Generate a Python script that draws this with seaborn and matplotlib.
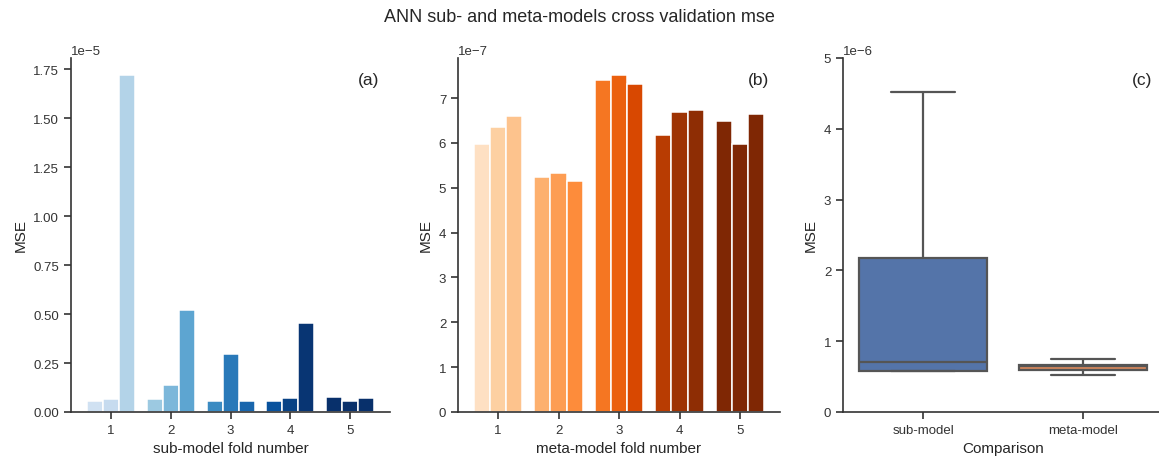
import numpy as np
import pandas as pd
import matplotlib
matplotlib.use("Agg")
import matplotlib.pyplot as plt
import seaborn as sns

# Cross-validation MSE per fold; three models trained in each fold
folds = [1, 2, 3, 4, 5]
members = [1, 2, 3]
sub_mse = [            # units of 1e-5
    [0.058, 0.064, 1.722],
    [0.064, 0.138, 0.523],
    [0.058, 0.297, 0.058],
    [0.058, 0.071, 0.452],
    [0.077, 0.058, 0.071],
]
meta_mse = [           # units of 1e-7
    [5.97, 6.35, 6.61],
    [5.25, 5.34, 5.16],
    [7.40, 7.52, 7.32],
    [6.18, 6.68, 6.73],
    [6.50, 5.98, 6.65],
]
comparison_labels = ["sub-model", "meta-model"]

# Colormap positions for the 15 bars of each panel (light -> dark)
blues_pos = [0.20, 0.25, 0.31, 0.38, 0.46, 0.54, 0.65, 0.72, 0.79, 0.87, 0.93, 0.98, 1.0, 1.0, 1.0]
oranges_pos = [0.16, 0.25, 0.30, 0.37, 0.44, 0.50, 0.58, 0.66, 0.75, 0.83, 0.90, 0.95, 1.0, 1.0, 1.0]

sns.set_theme(style="ticks")
plt.rcParams["font.family"] = ["Liberation Sans", "DejaVu Sans"]
plt.rcParams["axes.edgecolor"] = "#333333"
plt.rcParams["text.color"] = "#262626"
plt.rcParams["axes.labelcolor"] = "#262626"
plt.rcParams["xtick.color"] = "#333333"
plt.rcParams["ytick.color"] = "#333333"


def long_frame(values, scale):
    rows = [(f, m, v * scale) for f, vals in zip(folds, values) for m, v in zip(members, vals)]
    return pd.DataFrame(rows, columns=["fold", "member", "mse"])


sub_df = long_frame(sub_mse, 1e-5)
meta_df = long_frame(meta_mse, 1e-7)
comp_df = pd.DataFrame({
    "Comparison": [comparison_labels[0]] * len(sub_df) + [comparison_labels[1]] * len(meta_df),
    "MSE": list(sub_df["mse"]) + list(meta_df["mse"]),
})

fig = plt.figure(figsize=(11.59, 4.6), dpi=100)
h = 0.7696
b = 0.1022
ax1 = fig.add_axes([0.0613, b, 0.2752, h])
ax2 = fig.add_axes([0.3952, b, 0.2778, h])
ax3 = fig.add_axes([0.7274, b, 0.2762, h])


def style_axis(ax, label):
    sns.despine(ax=ax)
    for sp in ("left", "bottom"):
        ax.spines[sp].set_linewidth(1.2)
    ax.tick_params(labelsize=9.5, length=5, width=1.2)
    ax.yaxis.get_offset_text().set_fontsize(9.5)
    ax.xaxis.label.set_size(11)
    ax.yaxis.label.set_size(11)
    ax.text(0.965, 0.94, label, transform=ax.transAxes, ha="right",
            va="center", fontsize=12.5)


def fold_bars(ax, df, cmap_name, positions, xlabel, label):
    sns.barplot(data=df, x="fold", y="mse", hue="member", ax=ax, legend=False,
                errorbar=None, edgecolor="white", linewidth=1.1)
    cmap = plt.get_cmap(cmap_name)
    bars = sorted(ax.patches, key=lambda p: p.get_x())
    for bar, pos in zip(bars, positions):
        bar.set_facecolor(cmap(pos))
    ax.set_xlim(-0.66, 4.66)
    ax.set_xlabel(xlabel)
    ax.set_ylabel("MSE")
    style_axis(ax, label)


fold_bars(ax1, sub_df, "Blues", blues_pos, "sub-model fold number", "(a)")
fold_bars(ax2, meta_df, "Oranges", oranges_pos, "meta-model fold number", "(b)")

sns.boxplot(data=comp_df, x="Comparison", y="MSE", hue="Comparison",
            palette="deep", saturation=0.85, showfliers=False, width=0.8,
            linewidth=1.6, linecolor="#555555", legend=False, ax=ax3)
ax3.set_ylim(0, 5e-6)
ax3.set_xlim(-0.5, 1.5)
style_axis(ax3, "(c)")

fig.suptitle("ANN sub- and meta-models cross validation mse", fontsize=13,
             y=0.961, va="center")

fig.savefig("out.png", dpi=100)
